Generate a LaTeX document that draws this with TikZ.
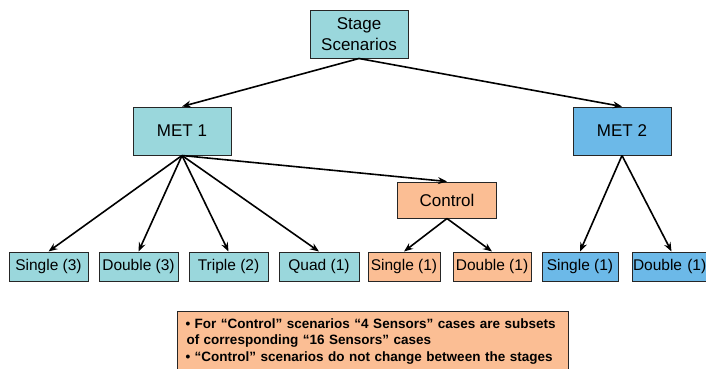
\documentclass[tikz,border=0pt]{standalone}
\usepackage{fontspec}
\setmainfont{Liberation Sans}
\usetikzlibrary{arrows.meta}
\definecolor{tealfill}{RGB}{154,215,220}
\definecolor{bluefill}{RGB}{108,185,232}
\definecolor{orangefill}{RGB}{251,190,148}
\begin{document}
\begin{tikzpicture}[x=1pt,y=-1pt,
  box/.style={draw=black!85,line width=1pt,rectangle,inner sep=0pt,align=center},
  bigbox/.style={box,minimum width=98pt,minimum height=48pt,font=\fontsize{17}{20.5}\selectfont},
  leaf/.style={box,minimum height=29pt,font=\fontsize{15.5}{17}\selectfont},
  conn/.style={line width=1.6pt,-{Stealth[length=9pt,width=7pt]}}]
\useasboundingbox (0,0) rectangle (706,368);
% top level
\node[bigbox,fill=tealfill] (stage) at (359,34) {Stage\\Scenarios};
\node[bigbox,fill=tealfill] (met1) at (182,131) {MET 1};
\node[bigbox,fill=bluefill] (met2) at (622,131) {MET 2};
\node[box,fill=orangefill,minimum width=99pt,minimum height=36pt,font=\fontsize{17}{19}\selectfont] (ctrl) at (447,200) {Control};
% leaves
\node[leaf,fill=tealfill,minimum width=79pt] (s3) at (48.5,266.5) {Single (3)};
\node[leaf,fill=tealfill,minimum width=79pt] (d3) at (138.5,266.5) {Double (3)};
\node[leaf,fill=tealfill,minimum width=79pt] (t2) at (228.5,266.5) {Triple (2)};
\node[leaf,fill=tealfill,minimum width=80pt] (q1) at (319,266.5) {Quad (1)};
\node[leaf,fill=orangefill,minimum width=72pt] (cs1) at (404,266.5) {Single (1)};
\node[leaf,fill=orangefill,minimum width=78pt] (cd1) at (492,266.5) {Double (1)};
\node[leaf,fill=bluefill,minimum width=76pt] (ms1) at (580,266.5) {Single (1)};
\node[leaf,fill=bluefill,minimum width=78pt,anchor=west,text width=78pt,align=left] (md1) at (632,266.5) {\hspace{0.5pt}Double (1)};
% connectors
\draw[conn] (stage.south) -- (met1.north);
\draw[conn] (stage.south) -- (met2.north);
\draw[conn] (met1.south) -- (s3.north);
\draw[conn] (met1.south) -- (d3.north);
\draw[conn] (met1.south) -- (t2.north);
\draw[conn] (met1.south) -- (q1.north);
\draw[conn] (met1.south) -- (ctrl.north);
\draw[conn] (ctrl.south) -- (cs1.north);
\draw[conn] (ctrl.south) -- (cd1.north);
\draw[conn] (met2.south) -- (ms1.north);
\draw[conn] (met2.south) -- (md1.north);
% note
\node[box,fill=orangefill,anchor=north west,minimum width=391pt,minimum height=64pt,
      text width=375pt,align=left,inner xsep=8pt,inner ysep=5pt,
      font=\bfseries\fontsize{13.5}{16.5}\selectfont] (note) at (177,311)
  {\strut• For “Control” scenarios “4 Sensors” cases are subsets\\
   \hspace{1pt}of corresponding “16 Sensors” cases\\
   • “Control” scenarios do not change between the stages\vphantom{g}\hfill\vspace{8pt}};
\end{tikzpicture}
\end{document}
